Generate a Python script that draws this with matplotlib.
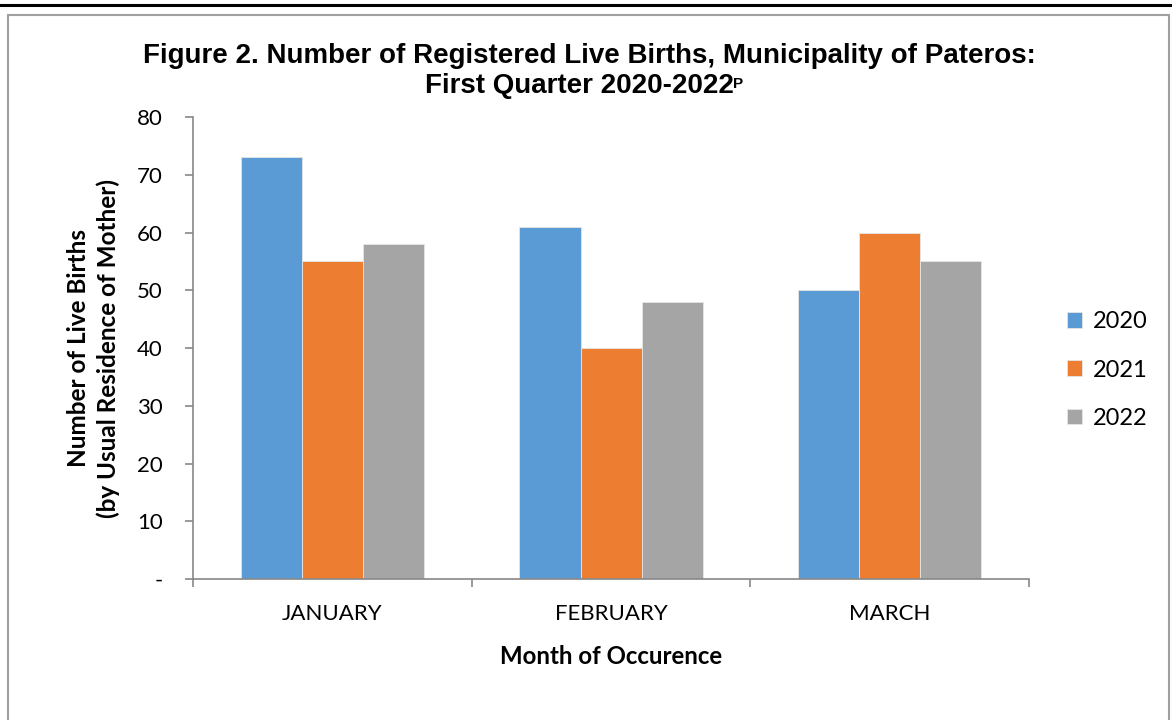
import matplotlib.pyplot as plt
import numpy as np
from matplotlib.patches import Rectangle
from matplotlib.lines import Line2D

# data
months = ["JANUARY", "FEBRUARY", "MARCH"]
years = ["2020", "2021", "2022"]
births_2020 = [73, 61, 50]
births_2021 = [55, 40, 60]
births_2022 = [58, 48, 55]
colors = ["#5B9BD5", "#ED7D31", "#A5A5A5"]
y_ticks = [0, 10, 20, 30, 40, 50, 60, 70, 80]
y_labels = ["-", "10", "20", "30", "40", "50", "60", "70", "80"]

fig = plt.figure(figsize=(11.72, 7.2), dpi=100)
ax = fig.add_axes([0.1647, 0.1958, 0.7133, 0.6417])

x = np.arange(len(months))
w = 0.219
series = [births_2020, births_2021, births_2022]
for i, vals in enumerate(series):
    ax.bar(x + (i - 1) * w, vals, width=w, color=colors[i], label=years[i],
           edgecolor="#e6e6e6", linewidth=0.6)

ax.set_xlim(-0.5, 2.5)
ax.set_ylim(0, 80)
ax.set_yticks(y_ticks)
ax.set_yticklabels(y_labels, fontsize=16, family="Lato")
ax.set_xticks(x)
ax.set_xticklabels(months, fontsize=16, family="Lato")
ax.set_xticks([-0.5, 0.5, 1.5, 2.5], minor=True)
ax.tick_params(axis="x", which="major", length=0, pad=18)
ax.tick_params(axis="x", which="minor", length=6, color="#888888", width=1.2)
ax.tick_params(axis="y", length=6, color="#888888", width=1.2, pad=16)

for s in ["top", "right"]:
    ax.spines[s].set_visible(False)
for s in ["left", "bottom"]:
    ax.spines[s].set_color("#888888")
    ax.spines[s].set_linewidth(1.2)

ax.set_ylabel("Number of Live Births\n(by Usual Residence of Mother)",
              fontsize=17.5, fontweight="bold", family="Lato", labelpad=12,
              linespacing=1.3)
ax.set_xlabel("Month of Occurence", fontsize=17.3, fontweight="bold",
              family="Lato", labelpad=15)

leg = fig.legend(loc="center left", bbox_to_anchor=(0.892, 0.486), frameon=False,
                 prop={"family": "Lato", "size": 17}, handlelength=0.65,
                 handleheight=0.65, handletextpad=0.45, labelspacing=1.15)

# title
t1 = fig.text(0.503, 0.922, "Figure 2. Number of Registered Live Births, Municipality of Pateros:",
              ha="center", va="center", fontsize=20, fontweight="bold",
              family="Liberation Sans")
t2 = fig.text(0.494, 0.88, "First Quarter 2020-2022", ha="center", va="center",
              fontsize=20, fontweight="bold", family="Liberation Sans")
ax.annotate("P", xy=(1, 0.85), xycoords=t2, va="top", ha="left",
            fontsize=11, fontweight="bold", family="Liberation Sans",
            annotation_clip=False)

# chart frame and top rule
fig.add_artist(Rectangle((8 / 1172, -0.05), 1161 / 1172, 1.05 - 15 / 720,
                         transform=fig.transFigure, fill=False,
                         edgecolor="#a0a0a0", linewidth=1.5))
fig.add_artist(Line2D([0, 1], [1 - 5 / 720, 1 - 5 / 720],
                      transform=fig.transFigure, color="black", linewidth=2.2))

plt.savefig("out.png", dpi=100)
